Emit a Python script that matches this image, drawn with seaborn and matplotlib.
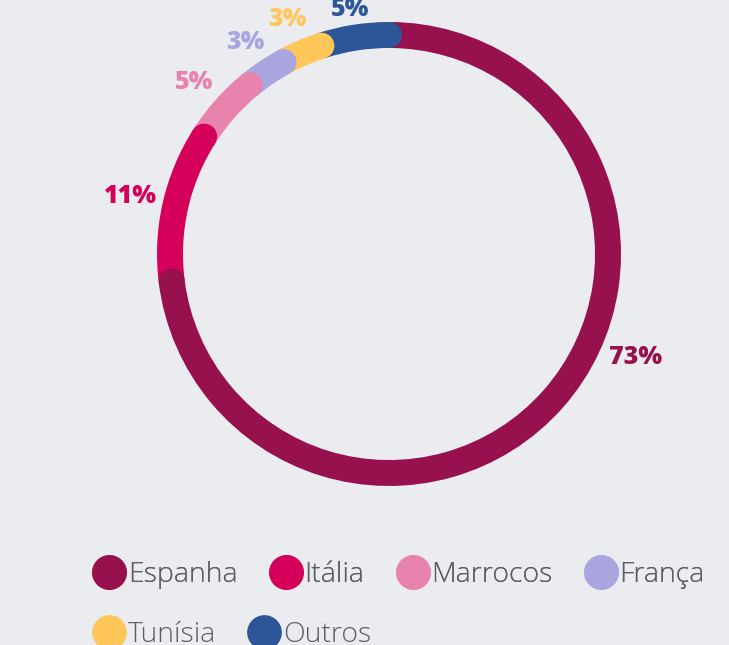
import numpy as np
import matplotlib.pyplot as plt
import seaborn as sns
from matplotlib.patches import Circle
from matplotlib.lines import Line2D

# data
countries = ['Espanha', 'Itália', 'Marrocos', 'França', 'Tunísia', 'Outros']
shares = [73, 11, 5, 3, 3, 5]
colors = ['#97114F', '#D4005A', '#E883AD', '#A9A6DF', '#FFC65A', '#2C5697']
# label placement tweaks (Espanha sits off its mid angle in the original)
label_angle_shift = [18.6, 0, 0, 0, 0, 0]
label_radius = [268, 265, 260, 256, 255, 248]

bg = '#EBECF0'
sns.set_theme(style='white')
plt.rcParams['font.family'] = ['Open Sans', 'DejaVu Sans']

fig = plt.figure(figsize=(7.29, 6.45), dpi=100)
fig.patch.set_facecolor(bg)
ax = fig.add_axes([0, 0, 1, 1])
ax.set_facecolor(bg)

# ring geometry in pixel units
cx, cy, R, w = 389, 391, 232, 26

ax.pie(shares, colors=colors, startangle=90, counterclock=False,
       center=(cx, cy), radius=R,
       wedgeprops=dict(width=w, linewidth=0))
ax.set_xlim(0, 729)
ax.set_ylim(0, 645)
ax.set_aspect('equal')
ax.axis('off')

# rounded caps at the end of each segment, overlapping the next one
total = sum(shares)
ends = 90 - 360 * np.cumsum(shares) / total
starts = ends + 360 * np.array(shares) / total
rm = R - w / 2
for ang, col in zip(ends, colors):
    t = np.deg2rad(ang)
    ax.add_patch(Circle((cx + rm * np.cos(t), cy + rm * np.sin(t)), w / 2,
                        color=col, lw=0, zorder=3))

# percentage labels
for s, e, val, col, sh, rl in zip(starts, ends, shares, colors,
                                  label_angle_shift, label_radius):
    mid = np.deg2rad((s + e) / 2 + sh)
    ax.text(cx + rl * np.cos(mid), cy + rl * np.sin(mid), f'{val}%',
            color=col, fontsize=18, fontweight='heavy',
            ha='center', va='center')

# legend, two rows
handles = [Line2D([], [], marker='o', ls='', markersize=25,
                  markerfacecolor=c, markeredgewidth=0) for c in colors]
common = dict(frameon=False, handlelength=1.2, handletextpad=0.05,
              columnspacing=1.1, borderpad=0, loc='center left',
              labelcolor='#5B5F66', prop=dict(size=20.5, weight='light'))
leg1 = fig.legend(handles[:4], countries[:4], ncol=4,
                  bbox_to_anchor=(78 / 729, 70 / 645), **common)
fig.add_artist(leg1)
fig.legend(handles[4:], countries[4:], ncol=2,
           bbox_to_anchor=(78 / 729, 10 / 645), **common)

fig.savefig('out.png', dpi=100, facecolor=bg)
